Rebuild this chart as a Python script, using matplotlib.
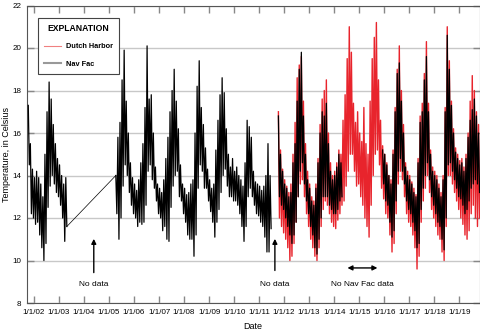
import numpy as np
import matplotlib as mpl
mpl.use('Agg')
import matplotlib.pyplot as plt
from matplotlib.lines import Line2D

plt.rcParams['font.family'] = ['Liberation Sans', 'DejaVu Sans']

# monthly high / low envelopes (deg C)
# Nav Fac, Oct 2001 - Apr 2003
nav1_start = (2001, 10)
nav1_hi = [17.3, 15.5, 14.3, 13.9, 14.2, 13.9, 13.6, 13.0, 15.0, 17.0, 18.4, 17.6,
           16.4, 15.5, 14.8, 14.5, 14.0, 13.6, 13.9]
nav1_lo = [14.5, 12.2, 12.0, 11.7, 11.8, 11.2, 10.6, 10.0, 10.8, 12.5, 13.5, 14.0,
           13.6, 13.2, 13.0, 12.6, 12.0, 10.9, 11.6]

# Nav Fac, Apr 2005 - Jun 2011
nav2_start = (2005, 4)
nav2_hi = [14.0, 15.8, 16.5, 18.5, 19.9, 17.5, 16.0, 14.6, 13.9,
           13.6, 13.3, 13.8, 14.6, 15.5, 17.2, 20.1, 17.6, 17.8, 16.0, 14.4, 13.6,
           13.4, 13.2, 13.8, 14.8, 15.8, 17.0, 18.0, 19.0, 17.5, 16.2, 14.5, 13.6,
           13.4, 13.1, 13.2, 13.6, 13.8, 16.0, 18.2, 19.4, 17.2, 16.4, 15.3, 14.3,
           13.8, 13.4, 13.6, 15.2, 16.6, 17.8, 18.6, 17.9, 16.2, 15.0, 14.4, 14.8,
           14.2, 14.4, 14.0, 13.8, 13.5, 14.6, 16.6, 16.3, 15.8, 14.2, 13.7, 13.6,
           13.5, 13.3, 13.5, 14.0, 15.5, 14.0]
nav2_lo = [12.2, 11.0, 12.0, 13.5, 14.5, 14.0, 13.2, 12.6, 12.2,
           12.0, 11.6, 11.8, 11.7, 11.8, 12.6, 14.2, 14.5, 13.8, 13.4, 12.8, 12.2,
           12.0, 11.4, 11.6, 11.0, 10.9, 12.5, 13.5, 14.0, 14.2, 13.0, 12.8, 12.2,
           11.8, 11.2, 11.0, 11.0, 10.2, 11.2, 13.4, 14.5, 14.2, 13.4, 13.4, 12.8,
           12.3, 11.8, 11.1, 11.8, 12.4, 13.2, 14.0, 14.3, 13.5, 13.0, 13.0, 12.8,
           12.8, 12.6, 12.2, 11.6, 10.9, 11.6, 13.0, 13.4, 13.0, 12.6, 12.2, 12.1,
           11.8, 11.6, 11.1, 10.4, 10.4, 11.5]

# Nav Fac, Oct 2011 - Apr 2014
nav3_start = (2011, 10)
nav3_hi = [16.8, 15.0, 14.2, 13.6, 13.4, 13.0, 13.2, 14.6, 15.5, 17.5, 19.0, 19.8,
           16.8, 15.0, 13.8, 13.4, 12.8, 12.6, 13.4, 14.6, 16.0, 17.0, 16.8, 17.4,
           15.5, 14.2, 13.8, 14.0, 14.4, 15.0, 14.6]
nav3_lo = [13.0, 12.6, 12.4, 12.0, 11.6, 11.2, 10.8, 11.2, 11.8, 13.0, 14.2, 14.6,
           13.6, 12.8, 12.2, 11.6, 11.2, 10.6, 10.3, 11.0, 12.0, 13.0, 13.0, 13.0,
           12.6, 12.4, 12.2, 12.2, 12.4, 12.8, 13.0]

# Nav Fac, Dec 2015 - Oct 2019
nav4_start = (2015, 12)
nav4_hi = [15.2, 15.0, 14.5, 14.0, 13.6, 15.0, 17.0, 18.8, 19.3, 17.5, 16.0, 14.4,
           14.0, 13.8, 13.6, 13.2, 13.0, 14.6, 16.5, 17.0, 18.5, 19.6, 17.0, 15.0,
           14.2, 14.0, 13.8, 13.4, 13.0, 13.8, 17.0, 20.6, 19.0, 17.3, 16.0, 15.1,
           14.8, 14.5, 14.6, 14.2, 14.8, 15.8, 16.6, 17.1, 17.6, 16.8, 16.0]
nav4_lo = [13.6, 12.8, 12.6, 11.8, 11.1, 11.4, 12.8, 14.2, 14.8, 14.2, 13.6, 12.8,
           12.4, 12.2, 11.8, 11.4, 10.6, 10.8, 12.4, 13.4, 14.0, 14.6, 13.8, 13.0,
           12.6, 12.2, 11.8, 11.6, 11.0, 10.5, 12.0, 14.5, 14.6, 14.2, 13.8, 13.4,
           13.0, 12.9, 12.6, 12.2, 12.4, 12.8, 13.4, 13.6, 13.8, 13.6, 13.2]

# Dutch Harbor, Oct 2011 - Oct 2019
dh_start = (2011, 10)
dh_hi = [17.0, 15.2, 14.3,
         13.8, 13.5, 13.2, 13.6, 15.0, 16.5, 18.6, 19.2, 19.6, 17.5, 15.5, 14.2,
         13.6, 13.0, 12.8, 13.6, 14.8, 16.4, 17.6, 18.0, 18.5, 16.0, 14.6, 14.0,
         14.2, 14.6, 15.2, 15.0, 16.6, 17.8, 19.5, 21.0, 19.8, 17.4, 16.5, 17.0,
         16.0, 15.6, 17.2, 15.5, 15.0, 17.5, 19.5, 20.5, 21.2, 18.5, 16.6, 15.4,
         15.0, 14.6, 14.0, 13.8, 15.2, 17.2, 19.0, 20.1, 18.0, 16.4, 14.6, 14.2,
         14.0, 13.7, 13.4, 13.1, 14.8, 16.8, 17.4, 18.8, 20.3, 17.4, 15.2, 14.4,
         14.2, 14.0, 13.6, 13.2, 14.0, 17.2, 21.0, 19.4, 17.5, 16.2, 15.3, 15.0,
         14.7, 14.8, 14.4, 15.0, 16.0, 17.5, 18.7, 18.0, 17.0, 16.4]
dh_lo = [12.0, 11.6, 11.3,
         11.0, 10.6, 10.0, 10.2, 10.8, 11.8, 13.0, 13.6, 13.8, 13.0, 12.2, 11.6,
         11.0, 10.6, 10.2, 10.0, 10.6, 11.6, 12.4, 12.8, 12.6, 12.2, 11.8, 11.6,
         11.5, 11.9, 12.2, 12.6, 12.8, 13.5, 14.2, 15.0, 15.0, 14.2, 13.5, 13.6,
         13.0, 12.6, 12.0, 11.6, 11.1, 12.6, 14.0, 15.0, 15.2, 14.5, 13.4, 12.9,
         12.2, 12.0, 11.2, 10.4, 10.8, 12.2, 13.6, 14.2, 13.8, 13.0, 12.2, 11.8,
         11.6, 11.2, 10.6, 9.6, 10.2, 11.8, 12.8, 13.4, 14.0, 13.2, 12.4, 12.0,
         11.6, 11.2, 11.0, 10.4, 10.0, 11.6, 14.0, 14.0, 13.6, 13.2, 12.8, 12.4,
         12.0, 11.7, 11.2, 11.0, 11.4, 12.2, 12.6, 12.0, 11.6, 12.0]

year_ticks = list(range(2002, 2020))
year_labels = ['1/1/%02d' % (y % 100) for y in year_ticks]


def zigzag(start, hi, lo):
    n = len(hi)
    t = start[0] + (start[1] - 0.5 + np.arange(n)) / 12.0
    tz = np.column_stack([t - 1 / 48.0, t + 1 / 48.0]).ravel()
    vz = np.column_stack([hi, lo]).ravel()
    return tz, vz


fig = plt.figure(figsize=(4.81, 3.31), dpi=100)
ax = fig.add_axes([27 / 481, 28 / 331, 453 / 481, 297.5 / 331])

red = '#e8242c'
t, v = zigzag(dh_start, dh_hi, dh_lo)
ax.plot(t, v, color=red, lw=1.0, zorder=2)

t1, v1 = zigzag(nav1_start, nav1_hi, nav1_lo)
t2, v2 = zigzag(nav2_start, nav2_hi, nav2_lo)
# thin line across the 2003-2005 data gap
ax.plot([t1[-1], t2[0]], [v1[-1], v2[0]], color='black', lw=0.5, zorder=3)
for st, hi, lo in [(nav1_start, nav1_hi, nav1_lo), (nav2_start, nav2_hi, nav2_lo),
                   (nav3_start, nav3_hi, nav3_lo), (nav4_start, nav4_hi, nav4_lo)]:
    t, v = zigzag(st, hi, lo)
    ax.plot(t, v, color='black', lw=0.9, zorder=3)

ax.set_xlim(2001.72, 2019.83)
ax.set_ylim(8, 22)
ax.set_yticks(range(8, 23, 2))
ax.set_xticks(year_ticks)
ax.set_xticklabels(year_labels)
ax.grid(axis='y', color='#c8c8c8', lw=1.0, zorder=0)
ax.tick_params(axis='both', direction='in', length=5, width=1, color='#888888',
               labelsize=5.8, top=True, right=True, pad=4)
for s in ax.spines.values():
    s.set_color('#555555')
    s.set_linewidth(0.8)

ax.set_xlabel('Date', fontsize=6.5)
ax.set_ylabel('Temperature, in Celsius', fontsize=6.5)
ax.xaxis.set_label_coords((253 - 27) / 453, -(322 - 303) / 297.5)
ax.yaxis.set_label_coords(-(27 - 11) / 453, 0.5)

# annotations
arrow = dict(arrowstyle='-|>', color='black', lw=1.0, mutation_scale=7)
ax.annotate('', xy=(2004.39, 11.15), xytext=(2004.39, 9.3), arrowprops=arrow)
ax.text(2004.39, 8.85, 'No data', ha='center', va='center', fontsize=6)
ax.annotate('', xy=(2011.63, 11.15), xytext=(2011.63, 9.4), arrowprops=arrow)
ax.text(2011.63, 8.85, 'No data', ha='center', va='center', fontsize=6)
ax.annotate('', xy=(2014.42, 9.65), xytext=(2015.84, 9.65),
            arrowprops=dict(arrowstyle='<|-|>', color='black', lw=1.0, mutation_scale=7))
ax.text(2015.13, 8.85, 'No Nav Fac data', ha='center', va='center', fontsize=6)

handles = [Line2D([], [], color='#f08080', lw=0.8),
           Line2D([], [], color='#999999', lw=1.5)]
leg = ax.legend(handles, ['Dutch Harbor', 'Nav Fac'], loc='upper left',
                bbox_to_anchor=(11 / 453, 1 - 12.5 / 297.5), borderaxespad=0,
                prop={'size': 5.3, 'weight': 'bold'}, title='EXPLANATION',
                title_fontproperties={'weight': 'bold', 'size': 6.2}, fancybox=False,
                framealpha=1, edgecolor='#444444', handlelength=2.3, labelspacing=1.4,
                borderpad=0.8, handletextpad=0.7)
leg.get_frame().set_linewidth(0.8)
leg.set_zorder(5)

fig.savefig('out.png', dpi=100)
